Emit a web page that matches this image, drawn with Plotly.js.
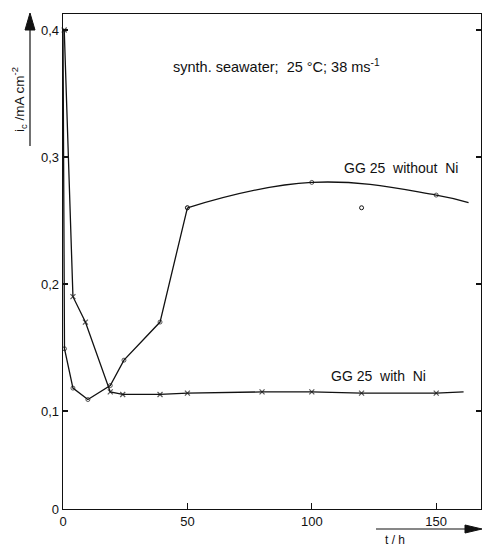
<!DOCTYPE html>
<html>
<head>
<meta charset="utf-8">
<script src="https://cdn.plot.ly/plotly-3.0.1.min.js"></script>
<style>
  html, body { margin: 0; padding: 0; background: #fff; }
  #chart { width: 482px; height: 548px; }
</style>
</head>
<body>
<div id="chart"></div>
<script>
// Cathodic current density i_c vs. exposure time t, GG 25 cast iron in synthetic seawater

// GG 25 with Ni (crosses); last entry only extends the line
const T_WITH_NI = [0.5, 4, 9, 19, 24, 39, 50, 80, 100, 120, 150, 161];
const I_WITH_NI = [0.40, 0.19, 0.17, 0.115, 0.113, 0.113, 0.114, 0.115, 0.115, 0.114, 0.114, 0.115];

// GG 25 without Ni (circles): straight segments up to 50 h
const T_WITHOUT_NI = [0, 0.6, 4, 10, 19, 24.5, 39, 50];
const I_WITHOUT_NI = [0.40, 0.149, 0.118, 0.109, 0.12, 0.14, 0.17, 0.26];

// GG 25 without Ni: smoothed curve from 50 h on; last entry only extends the line
const T_WITHOUT_NI_LATE = [50, 100, 150, 163];
const I_WITHOUT_NI_LATE = [0.26, 0.28, 0.27, 0.264];

// GG 25 without Ni: single point off the curve
const T_WITHOUT_NI_OFF = [120];
const I_WITHOUT_NI_OFF = [0.26];

// Axis ticks; the scale is broken below 0,1 so the bottom edge carries the label 0
const Y_BOTTOM = 0.0228;
const Y_TOP = 0.4126;
const Y_TICK_VALS = [Y_BOTTOM, 0.1, 0.2, 0.3, 0.4];
const Y_TICK_TEXT = ['0', '0,1', '0,2', '0,3', '0,4'];
const X_TICK_VALS = [0, 50, 100, 150];
const X_TICK_TEXT = ['0', '50', '100', '150'];

const INK = '#111';
const FONT = 'Liberation Sans, Arial, sans-serif';

// plot area in pixels, used to place the axis arrows in paper units
const M = { l: 63, r: 1, t: 14, b: 39 };
const W = 482, H = 548;
const PW = W - M.l - M.r, PH = H - M.t - M.b;
const px = v => (v - M.l) / PW;
const py = v => (H - M.b - v) / PH;

function sizes(n, s, lastHidden) {
  const a = new Array(n).fill(s);
  if (lastHidden) a[n - 1] = 0;
  return a;
}

const traces = [
  {
    x: T_WITH_NI, y: I_WITH_NI, type: 'scatter', mode: 'lines+markers',
    line: { color: INK, width: 1.3 },
    marker: { symbol: 'x-thin-open', size: sizes(T_WITH_NI.length, 5, true), color: INK, line: { color: INK, width: 1.2 } },
    cliponaxis: false, hoverinfo: 'skip'
  },
  {
    x: T_WITHOUT_NI, y: I_WITHOUT_NI, type: 'scatter', mode: 'lines+markers',
    line: { color: INK, width: 1.3 },
    marker: { symbol: 'circle-open', size: [0, 4, 4, 4, 4, 4, 4, 4], color: INK, line: { color: INK, width: 1 } },
    cliponaxis: false, hoverinfo: 'skip'
  },
  {
    x: T_WITHOUT_NI_LATE, y: I_WITHOUT_NI_LATE, type: 'scatter', mode: 'lines+markers',
    line: { color: INK, width: 1.3, shape: 'spline', smoothing: 1.2 },
    marker: { symbol: 'circle-open', size: sizes(T_WITHOUT_NI_LATE.length, 4, true), color: INK, line: { color: INK, width: 1 } },
    hoverinfo: 'skip'
  },
  {
    x: T_WITHOUT_NI_OFF, y: I_WITHOUT_NI_OFF, type: 'scatter', mode: 'markers',
    marker: { symbol: 'circle-open', size: 4, color: INK, line: { color: INK, width: 1 } },
    hoverinfo: 'skip'
  }
];

const axisCommon = {
  showgrid: false, zeroline: false, showline: true,
  linecolor: INK, linewidth: 1.3,
  ticks: 'inside', tickcolor: INK, tickwidth: 1.2,
  tickfont: { family: FONT, size: 13, color: INK },
  fixedrange: true
};

function arrowShapes() {
  const line = { color: INK, width: 1.2 };
  return [
    // vertical arrow beside the current axis title
    { type: 'line', xref: 'paper', yref: 'paper', x0: px(30), x1: px(30), y0: py(146), y1: py(26), line },
    { type: 'path', xref: 'paper', yref: 'paper',
      path: `M ${px(30)} ${py(13)} L ${px(25)} ${py(30)} L ${px(35)} ${py(30)} Z`,
      fillcolor: INK, line: { color: INK, width: 1 } },
    // horizontal arrow above the time axis title
    { type: 'line', xref: 'paper', yref: 'paper', x0: px(376), x1: px(468), y0: py(529), y1: py(529), line },
    { type: 'path', xref: 'paper', yref: 'paper',
      path: `M ${px(482)} ${py(529)} L ${px(465)} ${py(525)} L ${px(465)} ${py(533)} Z`,
      fillcolor: INK, line: { color: INK, width: 1 } }
  ];
}

const layout = {
  width: W, height: H,
  margin: M,
  paper_bgcolor: '#fff', plot_bgcolor: '#fff',
  showlegend: false,
  font: { family: FONT, color: INK },
  xaxis: Object.assign({}, axisCommon, {
    range: [0, 168], tickvals: X_TICK_VALS, ticktext: X_TICK_TEXT,
    ticklen: 6, mirror: true
  }),
  yaxis: Object.assign({}, axisCommon, {
    range: [Y_BOTTOM, Y_TOP], tickvals: Y_TICK_VALS, ticktext: Y_TICK_TEXT,
    ticklen: 5, mirror: 'ticks'
  }),
  shapes: arrowShapes(),
  annotations: [
    {
      xref: 'paper', yref: 'paper', x: px(171), y: py(66), xanchor: 'left', yanchor: 'middle',
      text: 'synth. seawater;  25 °C; 38 ms<sup>-1</sup>', showarrow: false,
      font: { family: FONT, size: 14.5, color: INK }
    },
    {
      xref: 'paper', yref: 'paper', x: px(342), y: py(168), xanchor: 'left', yanchor: 'middle',
      text: 'GG 25  without  Ni', showarrow: false,
      font: { family: FONT, size: 14, color: INK }
    },
    {
      xref: 'paper', yref: 'paper', x: px(329), y: py(376), xanchor: 'left', yanchor: 'middle',
      text: 'GG 25  with  Ni', showarrow: false,
      font: { family: FONT, size: 14, color: INK }
    },
    {
      xref: 'paper', yref: 'paper', x: px(19), y: py(100), xanchor: 'center', yanchor: 'middle',
      text: 'i<sub>c</sub> /mA cm<sup>-2</sup>', textangle: -90, showarrow: false,
      font: { family: FONT, size: 13.5, color: INK }
    },
    {
      xref: 'paper', yref: 'paper', x: px(395), y: py(540), xanchor: 'center', yanchor: 'middle',
      text: 't / h', showarrow: false,
      font: { family: FONT, size: 12, color: INK }
    }
  ]
};

Plotly.newPlot('chart', traces, layout, { displayModeBar: false, staticPlot: true });
</script>
</body>
</html>
